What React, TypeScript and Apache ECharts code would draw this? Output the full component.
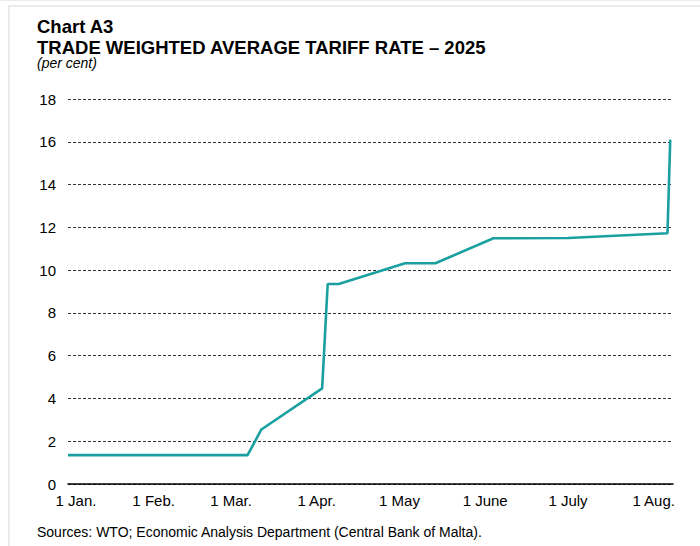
import React, { useEffect, useRef } from "react";
import * as echarts from "echarts";

const dates = [
  "2025-01-01", "2025-03-07", "2025-03-12", "2025-04-03", "2025-04-05",
  "2025-04-09", "2025-05-03", "2025-05-14", "2025-06-04", "2025-07-01",
  "2025-08-06", "2025-08-07",
];
const tariffRates = [1.35, 1.35, 2.55, 4.47, 9.35, 9.35, 10.32, 10.32, 11.49, 11.5, 11.72, 16.1];

const monthTicks = ["2025-01-01", "2025-02-01", "2025-03-01", "2025-04-01", "2025-05-01", "2025-06-01", "2025-07-01", "2025-08-01"];
const monthLabels = ["1 Jan.", "1 Feb.", "1 Mar.", "1 Apr.", "1 May", "1 June", "1 July", "1 Aug."];
const axisEndDate = "2025-08-08";

const startMs = Date.UTC(2025, 0, 1);
const dayOf = (s: string) => {
  const [y, m, d] = s.split("-").map(Number);
  return Math.round((Date.UTC(y, m - 1, d) - startMs) / 86400000);
};

const FONT = "'Liberation Sans', Arial, sans-serif";

export default function App() {
  const ref = useRef<HTMLDivElement>(null);
  useEffect(() => {
    if (!ref.current) return;
    const chart = echarts.init(ref.current, undefined, { renderer: "svg" });
    const tickDays = monthTicks.map(dayOf);
    const labelMap: Record<number, string> = {};
    tickDays.forEach((d, i) => (labelMap[d] = monthLabels[i]));
    chart.setOption({
      animation: false,
      backgroundColor: "#ffffff",
      textStyle: { fontFamily: FONT },
      grid: { left: 68, right: 27, top: 99, bottom: 62, containLabel: false },
      xAxis: {
        type: "value",
        min: 0,
        max: dayOf(axisEndDate),
        axisLine: { show: true, lineStyle: { color: "#000", width: 1.5 } },
        axisTick: { show: false },
        splitLine: { show: false },
        axisLabel: {
          customValues: tickDays,
          margin: 9,
          fontSize: 15,
          color: "#000",
          fontFamily: FONT,
          formatter: (v: number) => (v === 0 ? "{a|" + labelMap[v] + "}" : labelMap[v] ?? ""),
          rich: { a: { fontSize: 15, color: "#000", fontFamily: FONT, padding: [0, 0, 0, 16] } },
        },
      },
      yAxis: {
        type: "value",
        min: 0,
        max: 18,
        interval: 2,
        axisLine: { show: false },
        axisTick: { show: false },
        axisLabel: { fontSize: 15, color: "#000", margin: 12, fontFamily: FONT },
        splitLine: { show: true, lineStyle: { color: "#333", width: 1, type: [3, 2] } },
      },
      series: [
        {
          type: "line",
          data: dates.map((d, i) => [dayOf(d), tariffRates[i]]),
          showSymbol: false,
          lineStyle: { color: "#1aa0a1", width: 2.6 },
          z: 3,
        },
      ],
      graphic: [
        { type: "line", shape: { x1: 0, y1: 0.5, x2: 700, y2: 0.5 }, style: { stroke: "#ececec", lineWidth: 1 } },
        { type: "rect", shape: { x: 9, y: 6, width: 720, height: 600 }, style: { fill: "none", stroke: "#ebebeb", lineWidth: 2 } },
        { type: "text", x: 37, y: 26, style: { text: "Chart A3", font: "bold 18.5px " + FONT, fill: "#000", verticalAlign: "middle" } },
        { type: "text", x: 37, y: 47, style: { text: "TRADE WEIGHTED AVERAGE TARIFF RATE – 2025", font: "bold 18.5px " + FONT, fill: "#000", verticalAlign: "middle" } },
        { type: "text", x: 37, y: 63, style: { text: "(per cent)", font: "italic 14px " + FONT, fill: "#000", verticalAlign: "middle" } },
        { type: "text", x: 37, y: 532, style: { text: "Sources: WTO; Economic Analysis Department (Central Bank of Malta).", font: "14px " + FONT, fill: "#000", verticalAlign: "middle" } },
      ],
    });
    return () => chart.dispose();
  }, []);
  return <div ref={ref} style={{ position: "fixed", left: 0, top: 0, width: 700, height: 546 }} />;
}
